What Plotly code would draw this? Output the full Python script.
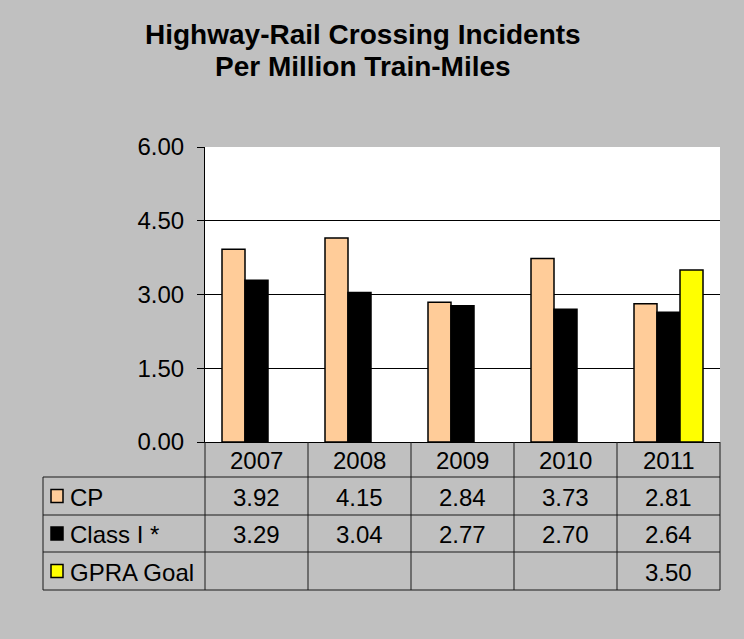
import plotly.graph_objects as go

# ---- data ----
categories = ["2007", "2008", "2009", "2010", "2011"]
series_names = ["CP", "Class I *", "GPRA Goal"]
cp_values = [3.92, 4.15, 2.84, 3.73, 2.81]
class1_values = [3.29, 3.04, 2.77, 2.70, 2.64]
gpra_values = [None, None, None, None, 3.50]
y_tick_vals = [0, 1.5, 3.0, 4.5, 6.0]
y_tick_text = ["0.00", "1.50", "3.00", "4.50", "6.00"]
colors = ["#FFCC99", "#000000", "#FFFF00"]
title_lines = ["Highway-Rail Crossing Incidents", "Per Million Train-Miles"]

# ---- layout geometry (pixels); page body adds an 8px offset ----
OFF = 8
W, H = 744 - OFF, 639 - OFF
ML, MR, MT, MB = 205 - OFF, 24, 147 - OFF, 639 - 442
PW = W - ML - MR
PH = H - MT - MB
FONT = "Arial, Liberation Sans, sans-serif"
FS = 24

def px_x(px):  # px in page coordinates
    return (px - OFF - ML) / PW

def px_y(py):
    return (H - MB - (py - OFF)) / PH

series = [cp_values, class1_values, gpra_values]

fig = go.Figure()
for name, vals, col in zip(series_names, series, colors):
    fig.add_trace(go.Bar(
        x=categories, y=vals, name=name,
        marker=dict(color=col, line=dict(color="black", width=1.5)),
        showlegend=False, hoverinfo="x+y+name",
    ))

n = len(categories)
rows_y = [442, 477, 515, 552, 590]
shapes = []
annotations = []
line_col = "#1a1a1a"

for i in range(n + 1):
    xp = i / n
    shapes.append(dict(type="line", xref="paper", yref="paper",
                       x0=xp, x1=xp, y0=px_y(rows_y[0]), y1=px_y(rows_y[4]),
                       line=dict(color=line_col, width=1)))
label_left = px_x(43)
shapes.append(dict(type="line", xref="paper", yref="paper",
                   x0=label_left, x1=label_left, y0=px_y(rows_y[1]), y1=px_y(rows_y[4]),
                   line=dict(color=line_col, width=1)))
for k in range(1, 5):
    shapes.append(dict(type="line", xref="paper", yref="paper",
                       x0=label_left, x1=1, y0=px_y(rows_y[k]), y1=px_y(rows_y[k]),
                       line=dict(color=line_col, width=1)))

for i, c in enumerate(categories):
    annotations.append(dict(xref="paper", yref="paper", x=(i + 0.5) / n,
                            y=px_y((rows_y[0] + rows_y[1]) / 2 + 1), text=c,
                            showarrow=False, xanchor="center", yanchor="middle",
                            font=dict(size=FS, color="black", family=FONT)))
for r, (name, vals, col) in enumerate(zip(series_names, series, colors)):
    yc = (rows_y[r + 1] + rows_y[r + 2]) / 2
    shapes.append(dict(type="rect", xref="paper", yref="paper",
                       x0=px_x(51), x1=px_x(63), y0=px_y(yc - 6.5), y1=px_y(yc + 6.5),
                       fillcolor=col, line=dict(color="black", width=1.5)))
    annotations.append(dict(xref="paper", yref="paper", x=px_x(68), y=px_y(yc + 1),
                            text=name, showarrow=False, xanchor="left", yanchor="middle",
                            font=dict(size=FS, color="black", family=FONT)))
    for i, v in enumerate(vals):
        if v is None:
            continue
        annotations.append(dict(xref="paper", yref="paper", x=(i + 0.5) / n, y=px_y(yc + 1),
                                text=f"{v:.2f}", showarrow=False,
                                xanchor="center", yanchor="middle",
                                font=dict(size=FS, color="black", family=FONT)))

for txt, yc in zip(title_lines, [34, 66]):
    annotations.append(dict(xref="paper", yref="paper", x=px_x(362.5), y=px_y(yc),
                            text=f"<b>{txt}</b>", showarrow=False,
                            xanchor="center", yanchor="middle",
                            font=dict(size=28, color="black", family=FONT)))

fig.update_layout(
    width=W, height=H,
    margin=dict(l=ML, r=MR, t=MT, b=MB, pad=0),
    paper_bgcolor="#C0C0C0", plot_bgcolor="#FFFFFF",
    barmode="group", bargap=0.33, bargroupgap=0,
    shapes=shapes, annotations=annotations,
    font=dict(family=FONT, size=FS, color="black"),
)
fig.update_xaxes(type="category", range=[-0.5, n - 0.5], showticklabels=False,
                 showline=True, linecolor="black", linewidth=1, ticks="",
                 showgrid=False, zeroline=False, fixedrange=True)
fig.update_yaxes(range=[0, 6], tickvals=y_tick_vals, ticktext=y_tick_text,
                 showgrid=True, gridcolor="black", gridwidth=1,
                 showline=True, linecolor="black", linewidth=1,
                 ticks="outside", ticklen=7, tickcolor="black",
                 ticklabelstandoff=8, zeroline=False,
                 tickfont=dict(size=FS, color="black", family=FONT))

fig.write_html("out.html",
               post_script="document.body.style.background='#C0C0C0';"
                           "document.body.style.boxShadow='inset 6px 2px 0 -4.5px #555';")
